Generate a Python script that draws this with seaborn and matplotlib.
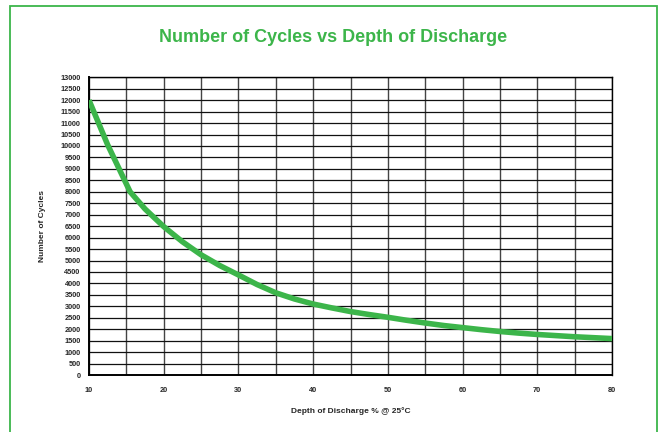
import numpy as np
import pandas as pd
import matplotlib
matplotlib.use("Agg")
import matplotlib.pyplot as plt
import seaborn as sns
from matplotlib.patches import Rectangle
from matplotlib.ticker import MultipleLocator

# values
depth = [10, 12.5, 15.5, 17.5, 20, 22.5, 25, 27.5, 30, 32.5, 35, 37.5, 40, 42.5, 45,
         47.5, 50, 52.5, 55, 57.5, 60, 62.5, 65, 67.5, 70, 72.5, 75, 77.5, 80]
cycles = [12000, 10050, 8000, 7250, 6480, 5820, 5250, 4780, 4370, 3950, 3590, 3320, 3100,
          2930, 2770, 2640, 2520, 2390, 2270, 2160, 2070, 1980, 1900, 1830, 1770, 1720,
          1670, 1630, 1590]
x_ticks = [10, 20, 30, 40, 50, 60, 70, 80]
y_ticks = list(range(0, 13001, 500))

green = "#3cb54a"

sns.set_style("white")
plt.rcParams["font.family"] = ["Liberation Sans", "DejaVu Sans"]

df = pd.DataFrame({"Depth": depth, "Cycles": cycles})

fig = plt.figure(figsize=(6.61, 4.32), dpi=100)
ax = fig.add_axes([89 / 661, 1 - 375 / 432, (612 - 89) / 661, (375 - 77.3) / 432])

sns.lineplot(data=df, x="Depth", y="Cycles", ax=ax, color=green, linewidth=4.0,
             solid_capstyle="butt", solid_joinstyle="round", zorder=5)

ax.set_xlim(10, 80)
ax.set_ylim(0, 13000)
ax.set_xticks(x_ticks)
ax.set_yticks(y_ticks)
ax.xaxis.set_minor_locator(MultipleLocator(5))
ax.set_xticklabels([str(v) for v in x_ticks], fontsize=5.3, fontweight="bold")
ax.set_yticklabels([str(v) for v in y_ticks], fontsize=5.3, fontweight="bold")

ax.grid(True, which="major", axis="y", color="#111111", linewidth=0.9)
ax.grid(True, which="both", axis="x", color="#444444", linewidth=1.0)
ax.tick_params(axis="both", which="major", direction="out", length=3, width=1,
               color="black", pad=3)
ax.tick_params(axis="x", which="major", pad=6)
ax.tick_params(axis="x", which="minor", length=0)
for s in ax.spines.values():
    s.set_color("black")
    s.set_linewidth(1.0)
ax.spines["left"].set_linewidth(1.4)
ax.spines["bottom"].set_linewidth(1.4)

ax.set_xlabel("Depth of Discharge % @ 25°C", fontsize=6, fontweight="bold", labelpad=9)
ax.set_ylabel("Number of Cycles", fontsize=6, fontweight="bold", labelpad=10)

fig.text(0.5 * (10 + 657) / 661, 1 - 37 / 432, "Number of Cycles vs Depth of Discharge",
         ha="center", va="center", fontsize=13, fontweight="bold", color=green)

# green frame round the whole figure
fig.patches.append(Rectangle((10 / 661, -0.02), (657 - 10) / 661, (432 - 6) / 432 + 0.02,
                             transform=fig.transFigure, fill=False,
                             edgecolor=green, linewidth=1.3, clip_on=False))

fig.savefig("out.png", dpi=100)
